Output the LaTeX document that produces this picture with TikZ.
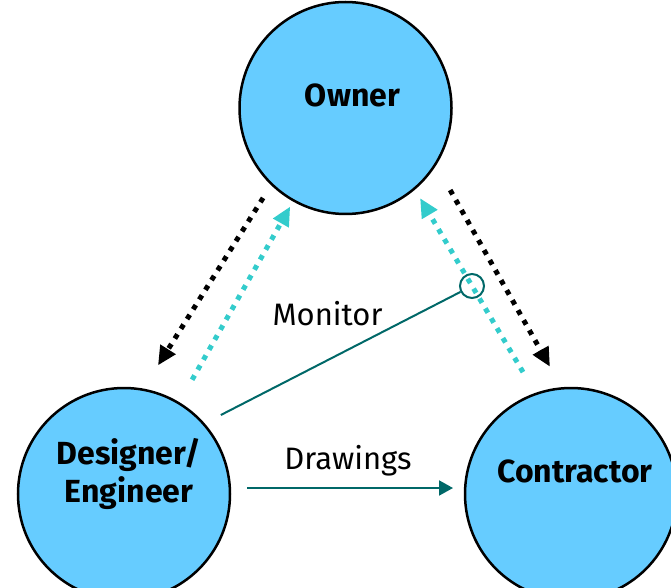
\documentclass[tikz,border=0pt]{standalone}
\usepackage{fontspec}
\setmainfont{Fira Sans}
\usetikzlibrary{arrows.meta,positioning,calc}
\definecolor{partyblue}{RGB}{102,204,255}
\definecolor{flowcyan}{RGB}{51,204,204}
\definecolor{linkteal}{RGB}{0,104,104}

\begin{document}
\begin{tikzpicture}[x=1pt,y=1pt,
  party/.style={circle,draw,line width=2.5pt,fill=partyblue,minimum size=212pt,inner sep=0pt,outer sep=0pt},
  partytext/.style={font=\fontsize{32}{38}\selectfont\bfseries,align=center},
  linktext/.style={font=\fontsize{31}{36}\selectfont},
  dots/.style={line width=5pt,dash pattern=on 5pt off 6.5pt,-{Triangle[length=19pt,width=17pt]}},
  link/.style={draw=linkteal,line width=2pt}]
\useasboundingbox (0,0) rectangle (671,587);
\node[party] (owner) at (345.5,479) {};
\node[party] (designer) at (124,93) {};
\node[party] (contractor) at (571,93) {};
\node[partytext] (ownerlbl) at ($(owner)+(7,13)$) {Owner};
\node[partytext] (designerlbl) at ($(designer)+(5,20)$) {Designer/\\Engineer};
\node[partytext] (contractorlbl) at ($(contractor)+(4,23)$) {Contractor};
% owner <-> designer
\draw[dots] ($(owner)+(227.5:122)$) -- ($(designer)+(75.2:133)$);
\draw[dots,flowcyan] ($(designer)+(59.2:133)$) -- ($(owner)+(240.7:113)$);
% owner <-> contractor
\draw[dots] ($(owner)+(321.9:133)$) -- ($(contractor)+(99.4:129)$);
\draw[dots,flowcyan] ($(contractor)+(111.5:131)$) -- ($(owner)+(309.6:117)$);
% monitor and drawings
\node[circle,link,minimum size=24pt,inner sep=0pt] (tap) at (472,301) {};
\draw[link] ($(designer)+(39.2:125)$) -- (tap);
\draw[link,-{Triangle[length=14pt,width=15pt]}] ($(designer)+(123,6)$) -- ($(contractor)+(-118,6)$);
\node[linktext] (monitorlbl) at (327.5,273) {Monitor};
\node[linktext] (drawingslbl) at (348,126) {Drawings};
\end{tikzpicture}
\end{document}
